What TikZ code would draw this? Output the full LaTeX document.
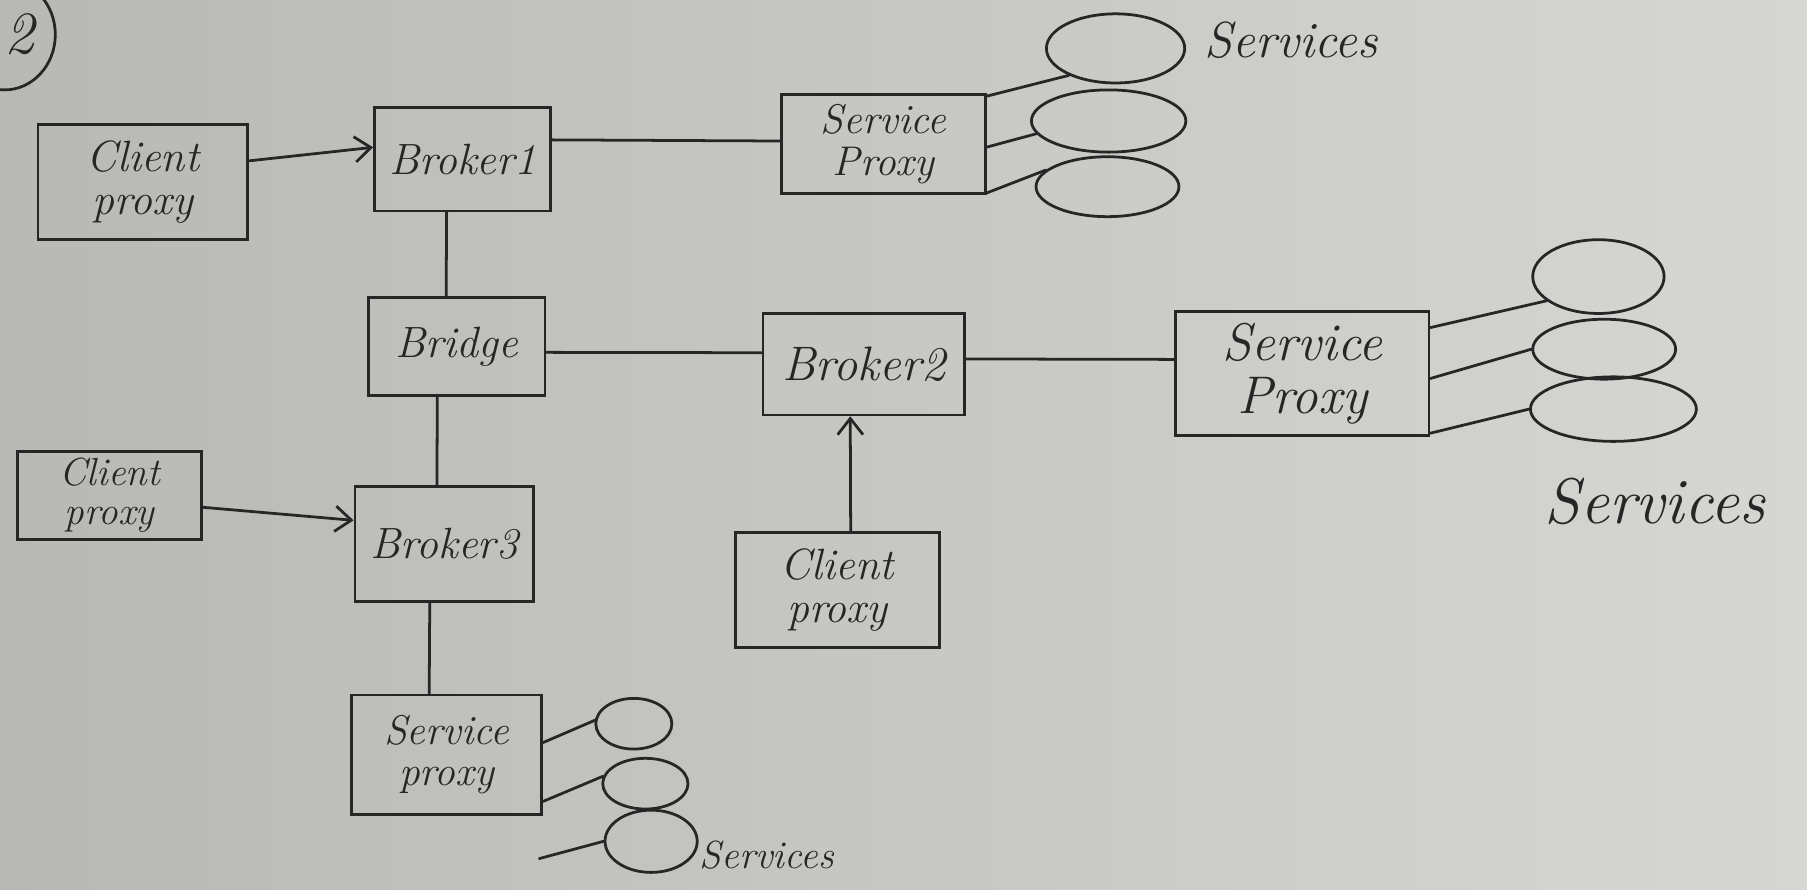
\documentclass[tikz,border=0pt]{standalone}
\usetikzlibrary{shapes.geometric,arrows.meta,calc}
\definecolor{paperL}{RGB}{184,184,181}
\definecolor{paperR}{RGB}{214,214,211}
\definecolor{ink}{RGB}{38,38,38}
\newcommand\handfont[1]{\itshape\fontsize{#1}{#1}\selectfont}
\tikzset{
  box/.style={draw=ink, line width=1.2pt, rectangle, inner sep=2pt, align=center,
              text=ink, font=\handfont{19}},
  svc/.style={draw=ink, line width=1.2pt, ellipse, inner sep=0pt},
  wire/.style={draw=ink, line width=1.2pt, line cap=round},
  flow/.style={wire, -{Straight Barb[length=7pt,width=11pt,line width=1.2pt]}},
  lbl/.style={text=ink, inner sep=0pt, anchor=west}
}
\begin{document}
\begin{tikzpicture}[x=0.5pt, y=-0.5pt]
  % paper
  \shade[left color=paperL, right color=paperR] (0,0) rectangle (1568,772);
  \useasboundingbox (0,0) rectangle (1568,772);

  % page number in a circle
  \coordinate (ring) at (4,30);
  \draw[wire] (ring) ellipse [x radius=22pt, y radius=24pt];
  \node[text=ink, font=\handfont{26}, inner sep=0pt] (num) at (17,30) {2};

  % brokers, bridge and proxies
  \node[box, minimum width=91pt, minimum height=50pt] (CP1) at (124,158) {Client\\proxy};
  \node[box, minimum width=76.5pt, minimum height=45pt] (B1) at (401.5,138) {Broker1};
  \node[box, minimum width=88.5pt, minimum height=43pt, font=\handfont{18}] (SP1) at (766.5,125) {Service\\Proxy};
  \node[box, minimum width=76.5pt, minimum height=42.5pt] (BR) at (396.5,300.5) {Bridge};
  \node[box, minimum width=87.5pt, minimum height=44pt, font=\handfont{21}] (B2) at (749.5,316) {Broker2};
  \node[box, minimum width=110pt, minimum height=54pt, font=\handfont{23}] (SP2) at (1130,324) {Service\\Proxy};
  \node[box, minimum width=80pt, minimum height=38pt, font=\handfont{17}] (CP2) at (95,430) {Client\\proxy};
  \node[box, minimum width=77.5pt, minimum height=50pt] (B3) at (385.5,472) {Broker3};
  \node[box, minimum width=88.5pt, minimum height=50pt] (CP3) at (726.5,512) {Client\\proxy};
  \node[box, minimum width=82.5pt, minimum height=52pt, font=\handfont{18}] (SP3) at (387.5,655) {Service\\proxy};

  % services
  \node[svc, minimum width=60pt, minimum height=30pt] (E1a) at (968,42) {};
  \node[svc, minimum width=67pt, minimum height=27pt] (E1b) at (962,105) {};
  \node[svc, minimum width=62pt, minimum height=26pt] (E1c) at (961,162) {};
  \node[svc, minimum width=57pt, minimum height=32pt] (E2a) at (1387,240) {};
  \node[svc, minimum width=62pt, minimum height=26pt] (E2b) at (1392,303) {};
  \node[svc, minimum width=72pt, minimum height=28pt] (E2c) at (1400,355) {};
  \node[svc, minimum width=33pt, minimum height=22pt] (E3a) at (550,628) {};
  \node[svc, minimum width=37pt, minimum height=22pt] (E3b) at (560,680) {};
  \node[svc, minimum width=40pt, minimum height=27pt] (E3c) at (565,730) {};

  \node[lbl, font=\handfont{22}] (S1) at (1045,35) {Services};
  \node[lbl, font=\handfont{28}] (S2) at (1340,435) {Services};
  \node[lbl, font=\handfont{17}] (S3) at (607,742) {Services};

  % broker links
  \draw[wire] ($(B1.north east)!0.32!(B1.south east)$) -- ($(SP1.north west)!0.47!(SP1.south west)$);
  \draw[wire] ($(B1.south west)!0.41!(B1.south east)$) -- ($(BR.north west)!0.44!(BR.north east)$);
  \draw[wire] ($(BR.north east)!0.56!(BR.south east)$) -- ($(B2.north west)!0.39!(B2.south west)$);
  \draw[wire] ($(B2.north east)!0.45!(B2.south east)$) -- ($(SP2.north west)!0.39!(SP2.south west)$);
  \draw[wire] ($(BR.south west)!0.39!(BR.south east)$) -- ($(B3.north west)!0.46!(B3.north east)$);
  \draw[wire] ($(B3.south west)!0.42!(B3.south east)$) -- ($(SP3.north west)!0.41!(SP3.north east)$);

  % client requests
  \draw[flow] ($(CP1.north east)!0.32!(CP1.south east)$) -- ($(B1.north west)!0.39!(B1.south west)$);
  \draw[flow] ($(CP2.north east)!0.63!(CP2.south east)$) -- ($(B3.north west)!0.30!(B3.south west)$);
  \draw[flow] ($(CP3.north west)!0.565!(CP3.north east)$) -- ($(B2.south west)!0.434!(B2.south east)$);

  % proxies to their services
  \draw[wire] ($(SP1.north east)!0.03!(SP1.south east)$) -- (E1a.210);
  \draw[wire] ($(SP1.north east)!0.53!(SP1.south east)$) -- (E1b.190);
  \draw[wire] ($(SP1.north east)!0.98!(SP1.south east)$) -- (E1c.165);
  \draw[wire] ($(SP2.north east)!0.14!(SP2.south east)$) -- (E2a.205);
  \draw[wire] ($(SP2.north east)!0.54!(SP2.south east)$) -- (E2b.180);
  \draw[wire] ($(SP2.north east)!0.97!(SP2.south east)$) -- (E2c.180);
  \draw[wire] ($(SP3.north east)!0.40!(SP3.south east)$) -- (E3a.175);
  \draw[wire] ($(SP3.north east)!0.88!(SP3.south east)$) -- (E3b.170);
  \coordinate (free3) at (468,745);
  \draw[wire] (free3) -- (E3c.180);
\end{tikzpicture}
\end{document}
